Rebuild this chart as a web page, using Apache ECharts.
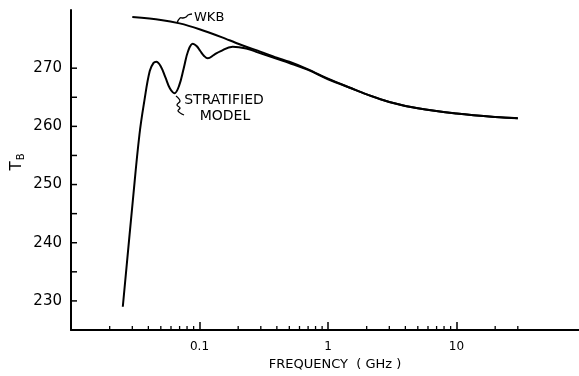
<!DOCTYPE html>
<html>
<head>
<meta charset="utf-8">
<script src="https://cdn.jsdelivr.net/npm/echarts@6/dist/echarts.min.js"></script>
<style>
html,body{margin:0;padding:0;background:#fff;}
#c{width:579px;height:376px;}
</style>
</head>
<body>
<div id="c"></div>
<script>
// ---- data (frequency in GHz, brightness temperature T_B in K) ----
var wkbFreq = [0.03, 0.05, 0.07, 0.1, 0.15, 0.2, 0.3, 0.4, 0.5, 0.7, 1, 1.5, 2, 3, 5, 10, 20, 30];
var wkbTb   = [278.8, 278.3, 277.7, 276.7, 275.3, 274.2, 272.8, 271.8, 271.1, 269.8, 268.2, 266.6, 265.5, 264.2, 263.1, 262.2, 261.6, 261.4];

var stratFreq = [0.0253, 0.0303, 0.0341, 0.0373, 0.041, 0.0439, 0.0461, 0.05, 0.0543, 0.0589, 0.0639, 0.0694, 0.0754, 0.0817, 0.0887, 0.0949, 0.1014, 0.1086, 0.116, 0.1297, 0.145, 0.181, 0.231, 0.276, 0.4, 0.5, 0.7, 1, 1.5, 2, 3, 5, 10, 20, 30];
var stratTb   = [229.0, 247.3, 258.6, 264.5, 269.5, 270.9, 271.1, 270.3, 268.4, 266.5, 265.7, 267.0, 270.0, 273.0, 274.2, 273.8, 272.95, 272.1, 271.7, 272.3, 272.9, 273.7, 273.4, 272.8, 271.6, 270.9, 269.7, 268.1, 266.6, 265.5, 264.2, 263.1, 262.2, 261.6, 261.4];

var xMajorLabels = {"0.1": "0.1", "1": "1", "10": "10"};
var xMinorTicks = [0.02, 0.03, 0.04, 0.05, 0.06, 0.07, 0.08, 0.09,
                   0.2, 0.3, 0.4, 0.5, 0.6, 0.7, 0.8, 0.9,
                   2, 3, 4, 5, 6, 7, 8, 9,
                   20, 30];
var yTickValues = [230, 235, 240, 245, 250, 255, 260, 265, 270];
var yLabelValues = [230, 240, 250, 260, 270];
var Y_MIN = 225, Y_MAX = 280;

function zip(a, b) { return a.map(function (v, i) { return [v, b[i]]; }); }

var chart = echarts.init(document.getElementById('c'), null, {renderer: 'canvas'});
var FONT = 'DejaVu Sans';

chart.setOption({
  animation: false,
  backgroundColor: '#fff',
  grid: {left: 71, width: 514, top: 10, bottom: 46, containLabel: false, outerBoundsMode: 'none'},
  xAxis: {
    type: 'log', logBase: 10, min: 0.01, max: 100,
    axisLine: {lineStyle: {color: '#000', width: 2}},
    axisTick: {inside: true, length: 8, lineStyle: {color: '#000', width: 1.5}},
    splitLine: {show: false},
    axisLabel: {
      color: '#000', fontFamily: FONT, fontSize: 12, margin: 11,
      formatter: function (v) { var k = String(+(+v).toPrecision(6)); return xMajorLabels[k] || ''; }
    },
    name: 'FREQUENCY  ( GHz )', nameLocation: 'middle', nameGap: 23,
    nameTextStyle: {color: '#000', fontFamily: FONT, fontSize: 13, padding: [0, 0, 0, 14]}
  },
  yAxis: {
    type: 'value', min: Y_MIN, max: Y_MAX, interval: 5,
    axisLine: {show: true, lineStyle: {color: '#000', width: 2}},
    axisTick: {show: false},
    splitLine: {show: false},
    axisLabel: {
      color: '#000', fontFamily: FONT, fontSize: 15, margin: 9,
      formatter: function (v) { return yLabelValues.indexOf(v) >= 0 ? String(v) : ''; }
    }
  },
  graphic: [
    {type: 'text', x: 17, y: 162, rotation: Math.PI / 2,
     style: {text: 'T{s|B}', fill: '#000', font: '15px "DejaVu Sans"', align: 'center', verticalAlign: 'middle',
       rich: {s: {fontSize: 10, fontFamily: FONT, padding: [8, 0, 0, 1]}}}},
    {type: 'text', x: 194, y: 18, style: {text: 'WKB', fill: '#000', font: '13px "DejaVu Sans"', verticalAlign: 'middle'}},
    {type: 'text', x: 224, y: 100, style: {text: 'STRATIFIED', fill: '#000', font: '14px "DejaVu Sans"', align: 'center', verticalAlign: 'middle'}},
    {type: 'text', x: 225, y: 116, style: {text: 'MODEL', fill: '#000', font: '14px "DejaVu Sans"', align: 'center', verticalAlign: 'middle'}},
    {type: 'polyline', shape: {points: [[177, 23], [180, 18], [183, 18], [186, 17], [188, 15], [192, 14]], smooth: 0.4},
     style: {fill: null, stroke: '#000', lineWidth: 1.3}},
    {type: 'polyline', shape: {points: [[176, 96], [180, 101], [177, 105], [180, 108], [178, 111], [184, 115]], smooth: 0.4},
     style: {fill: null, stroke: '#000', lineWidth: 1.3}}
  ],
  series: [
    {type: 'line', name: 'WKB', data: zip(wkbFreq, wkbTb), showSymbol: false, smooth: 0.3,
     lineStyle: {color: '#000', width: 2}},
    {type: 'line', name: 'Stratified model', data: zip(stratFreq, stratTb), showSymbol: false,
     smooth: 0.4,
     lineStyle: {color: '#000', width: 2}},
    {type: 'custom', name: 'xminor', coordinateSystem: 'cartesian2d', silent: true, clip: false,
     data: xMinorTicks.map(function (f) { return [f, Y_MIN]; }),
     renderItem: function (params, api) {
       var p = api.coord([api.value(0), Y_MIN]);
       return {type: 'line', shape: {x1: p[0], y1: p[1], x2: p[0], y2: p[1] - 4}, style: {stroke: '#000', lineWidth: 1.3}};
     }},
    {type: 'custom', name: 'yticks', coordinateSystem: 'cartesian2d', silent: true, clip: false,
     data: yTickValues.map(function (t) { return [0.01, t]; }),
     renderItem: function (params, api) {
       var p = api.coord([0.01, api.value(1)]);
       return {type: 'line', shape: {x1: p[0], y1: p[1], x2: p[0] + 6, y2: p[1]}, style: {stroke: '#000', lineWidth: 1.5}};
     }}
  ]
});
</script>
</body>
</html>
